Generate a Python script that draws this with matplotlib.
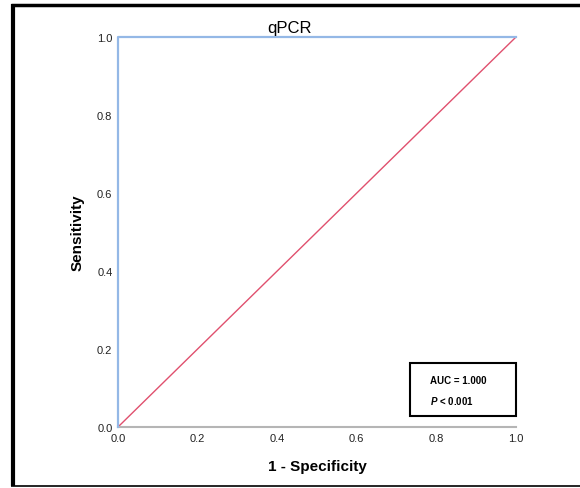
import matplotlib
matplotlib.use("Agg")
import matplotlib.pyplot as plt
from matplotlib.lines import Line2D
from matplotlib.patches import Rectangle

plt.rcParams["font.family"] = ["Liberation Sans", "DejaVu Sans"]
plt.rcParams["mathtext.fontset"] = "custom"
plt.rcParams["mathtext.bfit"] = "Liberation Sans:italic:bold"

# ROC curve points for qPCR
fpr = [0.0, 0.0, 1.0]
tpr = [0.0, 1.0, 1.0]
# chance reference line
ref_x = [0.0, 1.0]
ref_y = [0.0, 1.0]

ticks = [0.0, 0.2, 0.4, 0.6, 0.8, 1.0]
tick_labels = ["0.0", "0.2", "0.4", "0.6", "0.8", "1.0"]
auc_text = "AUC = 1.000"
p_text = "$\\bfit{P}$ < 0.001"

fig = plt.figure(figsize=(5.8, 4.89), dpi=100)
ax = fig.add_axes([0.2034, 0.1247, 0.6862, 0.7975])

ax.plot(ref_x, ref_y, color="#e0506e", lw=1.0, zorder=2)
ax.plot(fpr, tpr, color="#94b8e6", lw=1.6, zorder=3, clip_on=False)

ax.set_xlim(0, 1)
ax.set_ylim(0, 1)
ax.set_xticks(ticks)
ax.set_xticklabels(tick_labels)
ax.set_yticks(ticks)
ax.set_yticklabels(tick_labels)
ax.tick_params(length=0, labelsize=8, colors="#222222", pad=4)

for side in ["top", "right", "left"]:
    ax.spines[side].set_visible(False)
ax.spines["bottom"].set_color("#b5b5b5")
ax.spines["bottom"].set_linewidth(1.5)

# title sits a bit left of the axes centre
fig.text(289 / 580, 1 - 29 / 489, "qPCR", fontsize=12, ha="center",
         va="center")
ax.set_xlabel("1 - Specificity", fontsize=11, fontweight="bold", labelpad=12)
ax.set_ylabel("Sensitivity", fontsize=11, fontweight="bold", labelpad=9)

# statistics box in the lower right corner
ax.add_patch(Rectangle((0.734, 0.028), 0.266, 0.136, transform=ax.transAxes,
                       fill=True, facecolor="white", edgecolor="black", lw=1.5,
                       zorder=5, clip_on=False))
ax.text(0.785, 0.121, auc_text, transform=ax.transAxes, fontsize=7,
        fontweight="bold", va="center", zorder=6)
ax.text(0.785, 0.069, p_text, transform=ax.transAxes, fontsize=7,
        fontweight="bold", va="center", zorder=6)

# outer frame around the figure
fig.add_artist(Line2D([0.0224, 0.0224], [0.0041, 0.990], color="black", lw=3.0,
                      solid_capstyle="butt", transform=fig.transFigure))
fig.add_artist(Line2D([0.019, 1.0], [0.988, 0.988], color="black", lw=2.5,
                      solid_capstyle="butt", transform=fig.transFigure))
fig.add_artist(Line2D([0.019, 1.0], [0.0041, 0.0041], color="black", lw=1.2,
                      solid_capstyle="butt", transform=fig.transFigure))

fig.savefig("out.png", dpi=100)
